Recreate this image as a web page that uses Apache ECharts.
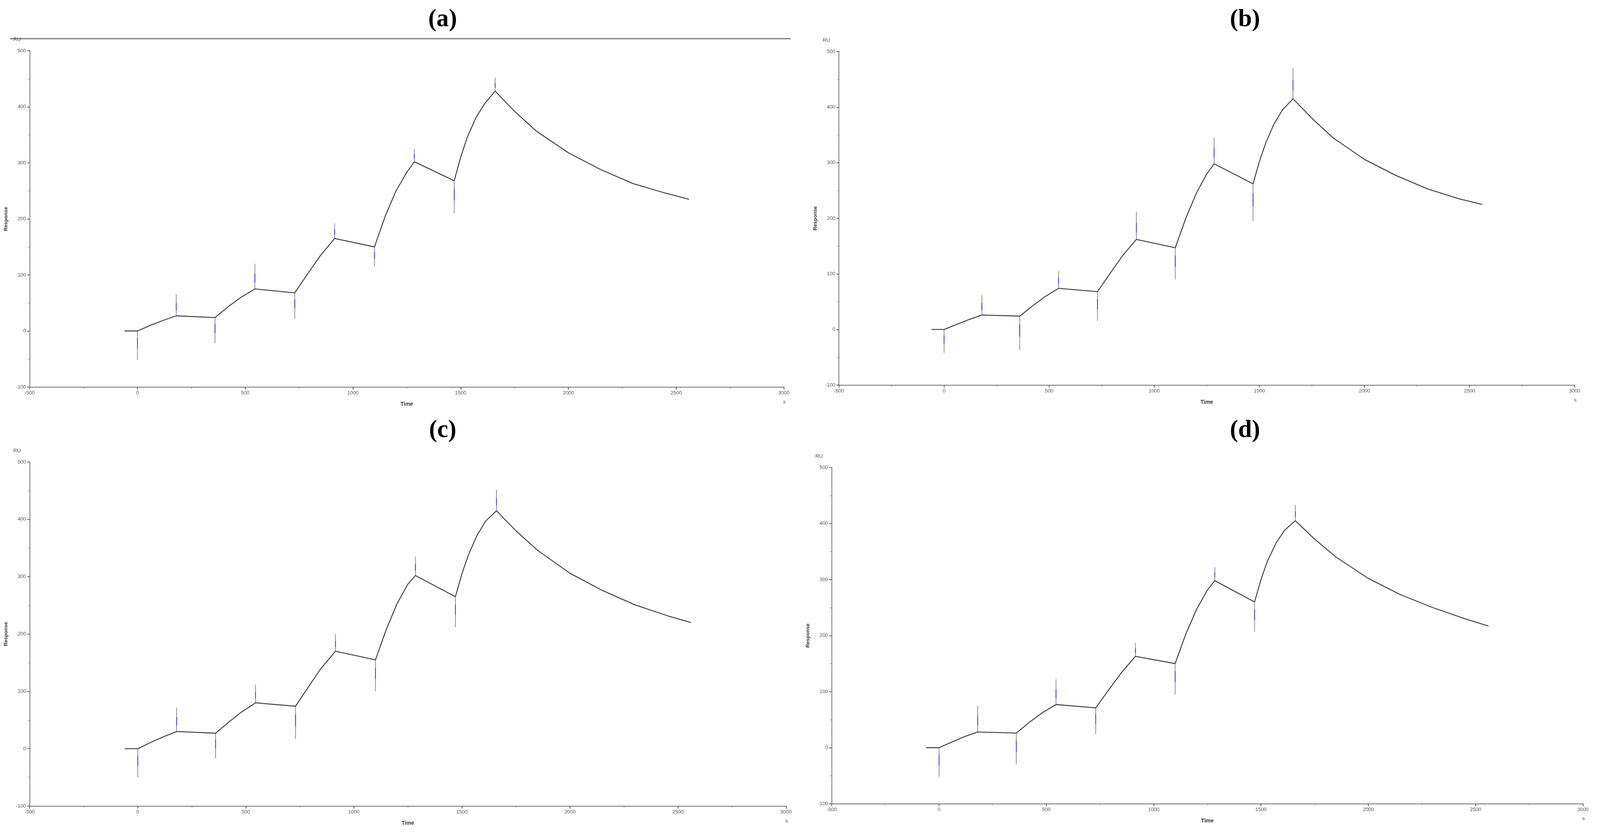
<!DOCTYPE html>
<html lang="en">
<head>
    <meta charset="UTF-8">
    <title>Sensorgrams</title>
    <script src="https://cdn.jsdelivr.net/npm/echarts@6/dist/echarts.min.js"></script>
    <style>
        html, body {margin: 0; padding: 0; background: #fff; overflow: hidden;}
        #main {width: 100vw; height: 100vh;}
    </style>
</head>
<body>
<div id="main"></div>
<script>
    // panel labels
    let panelNames = ['(a)', '(b)', '(c)', '(d)'];
    // x ticks / y ticks
    let xTicks = [-500, 0, 500, 1000, 1500, 2000, 2500, 3000];
    let yTicks = [-100, 0, 100, 200, 300, 400, 500];

    // response curves [time s, RU]
    let curveA = [[-60,0],[0,0],[60,10],[120,19],[180,27],[360,24],[420,43],[480,60],[545,75],[730,68],[790,102],[850,135],[915,165],[1100,150],[1150,205],[1200,250],[1250,283],[1285,302],[1470,268],[1500,310],[1530,345],[1570,380],[1610,405],[1660,428],[1750,392],[1850,357],[2000,318],[2150,288],[2300,263],[2450,246],[2560,235]];
    let curveB = [[-60,0],[0,0],[60,9],[120,18],[180,26],[360,24],[420,42],[480,59],[545,74],[730,68],[790,101],[850,133],[915,162],[1100,147],[1150,200],[1200,245],[1250,280],[1285,298],[1470,262],[1500,302],[1530,335],[1570,370],[1610,395],[1660,415],[1750,380],[1850,345],[2000,306],[2150,277],[2300,253],[2450,235],[2560,225]];
    let curveC = [[-60,0],[0,0],[60,11],[120,21],[180,30],[360,27],[420,46],[480,64],[545,80],[730,74],[790,108],[850,141],[915,170],[1100,155],[1150,208],[1200,253],[1250,287],[1285,302],[1470,265],[1500,305],[1530,338],[1570,372],[1610,397],[1660,415],[1750,380],[1850,346],[2000,306],[2150,276],[2300,251],[2450,232],[2560,220]];
    let curveD = [[-60,0],[0,0],[60,10],[120,20],[180,28],[360,26],[420,45],[480,62],[545,77],[730,71],[790,103],[850,134],[915,163],[1100,150],[1150,203],[1200,247],[1250,281],[1285,298],[1470,260],[1500,300],[1530,333],[1570,365],[1610,388],[1660,405],[1750,372],[1850,340],[2000,302],[2150,273],[2300,250],[2450,230],[2560,217]];

    // injection artefact spikes: time, base RU, tip RU
    let spikeTimes = [0, 180, 360, 545, 730, 915, 1100, 1285, 1470, 1660];
    let spikeBaseA = [0, 27, 24, 75, 68, 165, 150, 302, 268, 428];
    let spikeTipA  = [-52, 65, -22, 120, 22, 192, 115, 325, 210, 452];
    let spikeBaseB = [0, 26, 24, 74, 68, 162, 147, 298, 262, 415];
    let spikeTipB  = [-42, 62, -37, 105, 15, 212, 90, 345, 195, 470];
    let spikeBaseC = [0, 30, 27, 80, 74, 170, 155, 302, 265, 415];
    let spikeTipC  = [-50, 72, -17, 112, 17, 200, 100, 335, 212, 452];
    let spikeBaseD = [0, 28, 26, 77, 71, 163, 150, 298, 260, 405];
    let spikeTipD  = [-52, 75, -30, 122, 24, 187, 95, 322, 207, 433];

    let curves = [curveA, curveB, curveC, curveD];
    let bases  = [spikeBaseA, spikeBaseB, spikeBaseC, spikeBaseD];
    let tips   = [spikeTipA, spikeTipB, spikeTipC, spikeTipD];

    // layout measured on a 4415 x 2133 page, scaled to the real window
    let boxes = [
        [82, 130, 2081, 861],
        [2315, 132, 2030, 854],
        [82, 1183, 2087, 881],
        [2295, 1197, 2073, 861]
    ];
    let titlePos = [[1216, 14], [3430, 14], [1216, 1066], [3430, 1066]];

    let el = document.getElementById('main');
    let sx = el.clientWidth / 4415, sy = el.clientHeight / 2133, sf = Math.min(sx, sy);
    let chart = echarts.init(el);
    let grids = [], xAxes = [], yAxes = [], series = [], titles = [], graphics = [];
    let axisFont = 'Liberation Sans';

    boxes.forEach(function (b, i) {
        grids.push({left: b[0] * sx, top: b[1] * sy, width: b[2] * sx, height: b[3] * sy});
        xAxes.push({
            type: 'value', gridIndex: i, min: xTicks[0], max: xTicks[xTicks.length - 1], interval: 500,
            name: 'Time', nameLocation: 'middle', nameGap: 40 * sf,
            nameTextStyle: {fontSize: 15 * sf, color: '#333', fontFamily: axisFont, fontWeight: 'bold'},
            axisLine: {onZero: false, lineStyle: {color: '#999', width: 3 * sf}},
            axisTick: {length: 7 * sf, lineStyle: {color: '#555', width: 2 * sf}},
            minorTick: {show: true, splitNumber: 2, length: 4 * sf, lineStyle: {color: '#555'}},
            axisLabel: {fontSize: 14 * sf, color: '#555', fontFamily: axisFont, margin: 10 * sf,
                formatter: function (v) { return String(v); }},
            splitLine: {show: false}
        });
        yAxes.push({
            type: 'value', gridIndex: i, min: yTicks[0], max: yTicks[yTicks.length - 1], interval: 100,
            name: 'Response', nameLocation: 'middle', nameGap: 58 * sf, nameRotate: 90,
            nameTextStyle: {fontSize: 14 * sf, color: '#333', fontFamily: axisFont, fontWeight: 'bold'},
            axisLine: {show: true, onZero: false, lineStyle: {color: '#999', width: 3 * sf}},
            axisTick: {show: true, length: 7 * sf, lineStyle: {color: '#555', width: 2 * sf}},
            minorTick: {show: true, splitNumber: 2, length: 4 * sf, lineStyle: {color: '#555'}},
            axisLabel: {fontSize: 14 * sf, color: '#555', fontFamily: axisFont, margin: 10 * sf},
            splitLine: {show: false}
        });
        series.push({
            type: 'line', xAxisIndex: i, yAxisIndex: i, data: curves[i], showSymbol: false,
            lineStyle: {color: '#3a3a3a', width: 2.5 * sf}, z: 3
        });
        let grey = [], blue = [];
        spikeTimes.forEach(function (t, k) {
            let b0 = bases[i][k], tp = tips[i][k];
            grey.push([t, b0], [t, tp], null);
            blue.push([t, b0 + (tp - b0) * 0.25], [t, b0 + (tp - b0) * 0.6], null);
        });
        series.push({type: 'line', xAxisIndex: i, yAxisIndex: i, data: grey, showSymbol: false,
            connectNulls: false, lineStyle: {color: '#8a8a8a', width: 2 * sf}, z: 2});
        series.push({type: 'line', xAxisIndex: i, yAxisIndex: i, data: blue, showSymbol: false,
            connectNulls: false, lineStyle: {color: '#3535d8', width: 2 * sf}, z: 4});
        titles.push({
            text: panelNames[i], left: titlePos[i][0] * sx, top: titlePos[i][1] * sy, textAlign: 'center',
            textStyle: {fontFamily: 'Liberation Serif', fontWeight: 'bold', fontSize: 68 * sf, color: '#000'}
        });
        graphics.push({type: 'text', left: (b[0] - 45) * sx, top: (b[1] - 35) * sy,
            style: {text: 'RU', fontSize: 14 * sf, fill: '#444', fontFamily: axisFont}});
        graphics.push({type: 'text', left: (b[0] + b[2] - 2) * sx, top: (b[1] + b[3] + 32) * sy,
            style: {text: 's', fontSize: 14 * sf, fill: '#444', fontFamily: axisFont}});
    });

    graphics.push({type: 'line', shape: {x1: 28 * sx, y1: 99 * sy, x2: 2182 * sx, y2: 99 * sy},
        style: {stroke: '#777', lineWidth: 3 * sf}});

    chart.setOption({
        animation: false,
        backgroundColor: '#fff',
        title: titles,
        grid: grids,
        xAxis: xAxes,
        yAxis: yAxes,
        series: series,
        graphic: graphics
    });
</script>
</body>
</html>
